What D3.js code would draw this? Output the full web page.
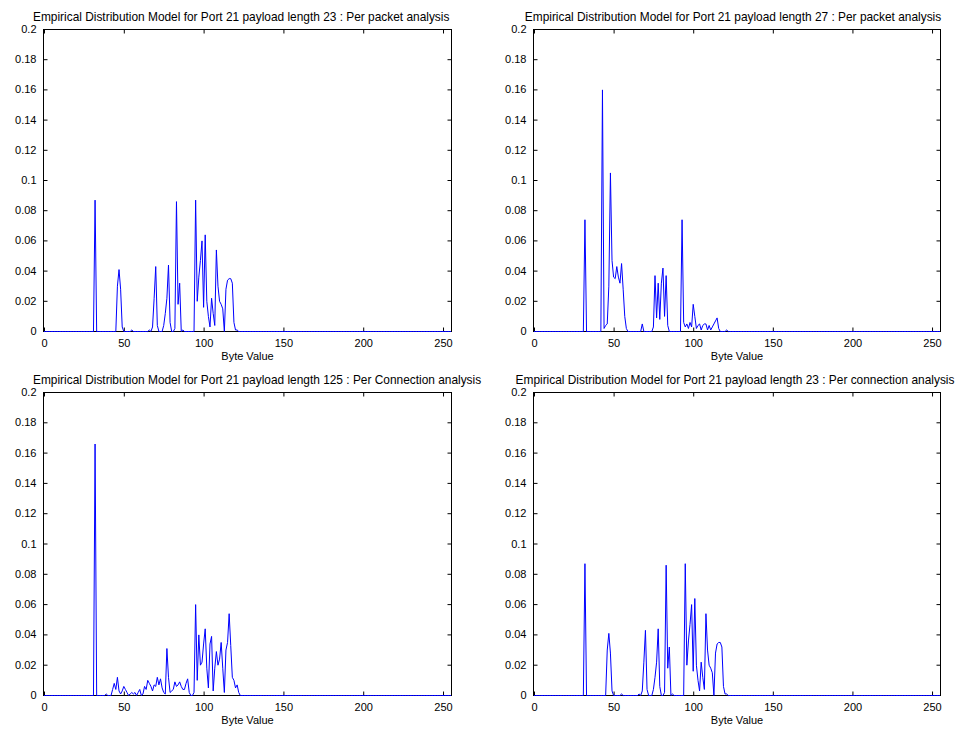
<!DOCTYPE html>
<html>
<head>
<meta charset="utf-8">
<script src="https://cdnjs.cloudflare.com/ajax/libs/d3/7.8.5/d3.min.js"></script>
<style>
  body { margin: 0; background: #fff; }
  svg { display: block; }
  text { font-family: "Liberation Sans", Arial, sans-serif; fill: #000; }
</style>
</head>
<body>
<script>
// byte value -> relative frequency (bytes not listed are 0)
const packet23 = [
  [32, 0.087], [46, 0.03], [47, 0.041], [48, 0.028], [49, 0.003], [55, 0.001], [66, 0.001],
  [68, 0.003], [69, 0.022], [70, 0.043], [71, 0.004], [75, 0.004], [76, 0.012], [77, 0.022],
  [78, 0.044], [79, 0.006], [82, 0.002], [83, 0.086], [84, 0.018], [85, 0.032], [87, 0.001],
  [95, 0.087], [96, 0.02], [97, 0.036], [98, 0.047], [99, 0.06], [100, 0.016], [101, 0.064],
  [102, 0.02], [103, 0.01], [104, 0.003], [105, 0.022], [106, 0.012], [107, 0.004], [108, 0.054],
  [109, 0.03], [110, 0.02], [111, 0.018], [112, 0.015], [114, 0.028], [115, 0.034], [116, 0.035],
  [117, 0.035], [118, 0.032], [119, 0.006], [120, 0.001], [121, 0.001]
];
const packet27 = [
  [32, 0.074], [43, 0.16], [44, 0.002], [45, 0.004], [46, 0.005], [47, 0.03], [48, 0.105],
  [49, 0.047], [50, 0.036], [51, 0.035], [52, 0.043], [53, 0.036], [54, 0.032], [55, 0.045],
  [56, 0.028], [57, 0.01], [58, 0.002], [68, 0.005], [75, 0.003], [76, 0.037], [77, 0.009],
  [78, 0.032], [79, 0.008], [80, 0.032], [81, 0.042], [82, 0.01], [83, 0.037], [84, 0.004],
  [93, 0.074], [94, 0.006], [95, 0.003], [96, 0.005], [97, 0.002], [98, 0.006], [99, 0.003],
  [100, 0.018], [101, 0.01], [102, 0.002], [103, 0.004], [104, 0.005], [105, 0.001], [106, 0.004],
  [107, 0.005], [108, 0.005], [109, 0.001], [110, 0.004], [111, 0.001], [112, 0.003], [113, 0.005],
  [114, 0.007], [115, 0.009], [116, 0.002], [121, 0.001]
];
const conn125 = [
  [32, 0.166], [39, 0.001], [43, 0.004], [44, 0.008], [45, 0.004], [46, 0.012], [47, 0.003],
  [48, 0.001], [49, 0.003], [50, 0.006], [51, 0.004], [52, 0.002], [54, 0.001], [55, 0.002],
  [56, 0.001], [57, 0.002], [59, 0.002], [60, 0.004], [62, 0.001], [63, 0.006], [64, 0.004],
  [65, 0.01], [66, 0.008], [67, 0.006], [68, 0.003], [69, 0.007], [70, 0.006], [71, 0.012],
  [72, 0.007], [73, 0.011], [74, 0.005], [75, 0.002], [76, 0.001], [77, 0.031], [78, 0.012],
  [79, 0.002], [80, 0.003], [81, 0.004], [82, 0.009], [83, 0.006], [84, 0.007], [85, 0.009],
  [86, 0.006], [87, 0.004], [88, 0.004], [89, 0.008], [90, 0.011], [91, 0.002], [94, 0.002],
  [95, 0.06], [96, 0.01], [97, 0.04], [98, 0.02], [99, 0.022], [100, 0.034], [101, 0.044],
  [102, 0.018], [103, 0.005], [104, 0.034], [105, 0.039], [106, 0.003], [107, 0.018], [108, 0.029],
  [109, 0.02], [110, 0.024], [111, 0.035], [112, 0.018], [113, 0.002], [114, 0.03], [115, 0.035],
  [116, 0.054], [117, 0.033], [118, 0.012], [119, 0.01], [120, 0.005], [121, 0.007], [122, 0.002]
];
// per connection analysis for length 23 shows the same distribution as per packet
const conn23 = packet23;

const titles = [
  "Empirical Distribution Model for Port 21 payload length 23 : Per packet analysis",
  "Empirical Distribution Model for Port 21 payload length 27 : Per packet analysis",
  "Empirical Distribution Model for Port 21 payload length 125 : Per Connection analysis",
  "Empirical Distribution Model for Port 21 payload length 23 : Per connection analysis"
];
const series = [packet23, packet27, conn125, conn23];
const xTicks = [0, 50, 100, 150, 200, 250];
const yTicks = [0, 0.02, 0.04, 0.06, 0.08, 0.1, 0.12, 0.14, 0.16, 0.18, 0.2];
const xLabel = "Byte Value";

// layout of each subplot
const panels = [
  { x0: 44, x1: 451, y0: 29, y1: 331, clipX: 0, titleX: 33, anchor: "start" },
  { x0: 534, x1: 940, y0: 29, y1: 331, clipX: 483, titleX: 733, anchor: "middle" },
  { x0: 44, x1: 451, y0: 392, y1: 695, clipX: 0, titleX: 33, anchor: "start" },
  { x0: 534, x1: 940, y0: 392, y1: 695, clipX: 483, titleX: 735, anchor: "middle" }
];

const svg = d3.select("body").append("svg")
  .attr("width", 966)
  .attr("height", 729);

panels.forEach(function(p, i) {
  const clipId = "clip" + i;
  svg.append("clipPath").attr("id", clipId)
    .append("rect")
    .attr("x", p.clipX).attr("y", p.y0 - 40)
    .attr("width", 483).attr("height", 400);

  const g = svg.append("g").attr("clip-path", "url(#" + clipId + ")");

  const x = d3.scaleLinear().domain([0, 255]).range([p.x0, p.x1]);
  const y = d3.scaleLinear().domain([0, 0.2]).range([p.y1, p.y0]);

  const lookup = new Map(series[i]);
  const dense = d3.range(256).map(b => ({ b: b, v: lookup.get(b) || 0 }));

  // box
  g.append("rect")
    .attr("x", p.x0 - 0.5).attr("y", p.y0 + 0.5)
    .attr("width", p.x1 - p.x0 + 1).attr("height", p.y1 - p.y0)
    .attr("fill", "#fff").attr("stroke", "#000").attr("stroke-width", 1);

  // inward ticks, MATLAB style on all sides
  const tl = 4;
  const bottom = d3.axisBottom(x).tickValues(xTicks).tickSizeInner(-tl).tickSizeOuter(0).tickPadding(8);
  const top = d3.axisTop(x).tickValues(xTicks).tickSizeInner(-tl).tickSizeOuter(0).tickFormat("");
  const left = d3.axisLeft(y).tickValues(yTicks).tickSizeInner(-tl).tickSizeOuter(0).tickPadding(7).tickFormat(d3.format("~g"));
  const right = d3.axisRight(y).tickValues(yTicks).tickSizeInner(-tl).tickSizeOuter(0).tickFormat("");

  function style(sel) {
    sel.select(".domain").remove();
    sel.selectAll("line").attr("stroke", "#000");
    sel.selectAll("text").style("font-size", "11px").attr("fill", "#000");
  }
  g.append("g").attr("transform", "translate(0," + (p.y1 + 0.5) + ")").call(bottom).call(style);
  g.append("g").attr("transform", "translate(0," + (p.y0 + 0.5) + ")").call(top).call(style);
  g.append("g").attr("transform", "translate(" + (p.x0 - 0.5) + ",0)").call(left).call(style);
  g.append("g").attr("transform", "translate(" + (p.x1 + 0.5) + ",0)").call(right).call(style);

  // distribution line
  g.append("path")
    .datum(dense)
    .attr("fill", "none")
    .attr("stroke", "#0000ff")
    .attr("stroke-width", 1)
    .attr("d", d3.line().x(d => x(d.b)).y(d => y(d.v) + 0.5));

  g.append("text")
    .attr("x", (p.x0 + p.x1) / 2)
    .attr("y", p.y1 + 29)
    .attr("text-anchor", "middle")
    .style("font-size", "11px")
    .text(xLabel);

  g.append("text")
    .attr("x", p.titleX)
    .attr("y", p.y0 - 8)
    .attr("text-anchor", p.anchor)
    .style("font-size", "11.9px")
    .text(titles[i]);
});
</script>
</body>
</html>
